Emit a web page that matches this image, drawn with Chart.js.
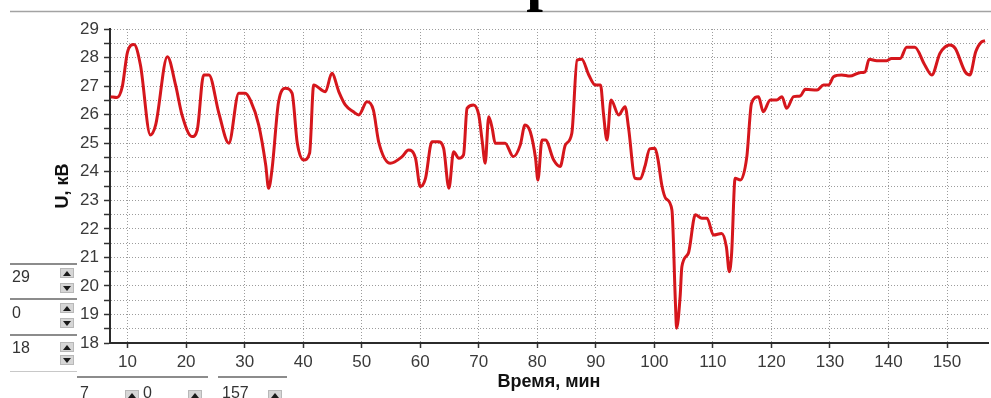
<!DOCTYPE html>
<html lang="ru">
<head>
<meta charset="UTF-8">
<title>U, кВ</title>
<script src="https://cdn.jsdelivr.net/npm/chart.js"></script>
<style>
  html, body { margin: 0; padding: 0; background: #fff; }
  #wrap { position: relative; width: 991px; height: 398px; overflow: hidden; }
  #chart { position: absolute; left: 0; top: 0; }
  .edge { position: absolute; height: 0; border-top: 2px solid #8c8c8c; }
  .val { position: absolute; font: 16px "Liberation Sans", Arial, sans-serif; line-height: 16px; color: #333; }
  .btn { position: absolute; width: 12px; height: 8px; background: #d6d6d6; border: 1px solid #b8b8b8; }
  .btn i { position: absolute; left: 2px; width: 0; height: 0; border-left: 4px solid transparent; border-right: 4px solid transparent; }
  .up i { top: 2px; border-bottom: 5px solid #1a1a1a; }
  .dn i { top: 2px; border-top: 5px solid #1a1a1a; }
</style>
</head>
<body>
<div id="wrap">
  <canvas id="chart" width="991" height="398"></canvas>

  <!-- y range spinners -->
  <div class="edge" style="left:10px; top:263px; width:67px;"></div>
  <div class="val" style="left:12px; top:269px;">29</div>
  <div class="btn up" style="left:60px; top:268px;"><i></i></div>
  <div class="btn dn" style="left:60px; top:283px;"><i></i></div>

  <div class="edge" style="left:10px; top:298px; width:67px;"></div>
  <div class="val" style="left:12px; top:305px;">0</div>
  <div class="btn up" style="left:60px; top:303px;"><i></i></div>
  <div class="btn dn" style="left:60px; top:318px;"><i></i></div>

  <div class="edge" style="left:10px; top:334px; width:67px;"></div>
  <div class="val" style="left:12px; top:340px;">18</div>
  <div class="btn up" style="left:60px; top:342px;"><i></i></div>
  <div class="btn dn" style="left:60px; top:355px;"><i></i></div>
  <div class="edge" style="left:10px; top:371px; width:67px; border-top:1px solid #c8c8c8;"></div>

  <!-- x range spinners -->
  <div class="edge" style="left:77px; top:376px; width:131px;"></div>
  <div class="val" style="left:80px; top:385px;">7</div>
  <div class="btn up" style="left:125px; top:390px;"><i></i></div>
  <div class="val" style="left:143px; top:385px;">0</div>
  <div class="btn up" style="left:188px; top:390px;"><i></i></div>
  <div class="edge" style="left:218px; top:376px; width:69px;"></div>
  <div class="val" style="left:222px; top:385px;">157</div>
  <div class="btn up" style="left:268px; top:390px;"><i></i></div>
</div>

<script>
// время, мин
const timeMin = [
  7.1, 8.2, 9.1, 10.0, 11.1, 12.2, 13.9, 14.8, 16.8, 18.2,
  19.3, 21.0, 21.9, 23.0, 23.9, 25.6, 27.3, 29.0, 30.1, 31.0,
  32.4, 33.6, 34.1, 34.7, 35.8, 37.0, 38.1, 39.0, 40.1, 41.1,
  41.8, 43.8, 44.9, 46.1, 47.2, 48.6, 49.5, 50.9, 52.0, 52.9,
  54.9, 56.9, 58.0, 59.2, 60.0, 60.9, 62.0, 63.1, 64.0, 64.9,
  65.7, 66.6, 67.4, 68.0, 69.1, 70.0, 70.6, 71.1, 71.7, 72.3,
  72.8, 74.5, 75.9, 77.1, 77.9, 78.8, 79.7, 80.1, 80.8, 81.4,
  82.8, 83.9, 84.8, 85.9, 86.8, 87.6, 88.8, 89.9, 90.8, 91.3,
  91.9, 92.6, 93.9, 95.0, 95.6, 96.7, 97.6, 98.4, 99.2, 100.1,
  100.6, 101.3, 102.0, 103.0, 103.6, 103.8, 104.4, 104.7, 105.8, 107.0,
  108.1, 109.0, 110.1, 111.5, 112.3, 112.8, 113.2, 113.8, 114.7, 115.8,
  116.6, 117.8, 118.6, 119.8, 120.9, 121.8, 122.6, 123.8, 124.9, 125.8,
  127.8, 128.9, 129.8, 130.6, 132.0, 133.4, 135.1, 136.0, 136.7, 138.0,
  139.7, 140.5, 142.0, 143.1, 144.5, 146.2, 147.4, 148.8, 150.5, 151.4,
  153.1, 153.9, 154.9, 155.9, 156.5
];

// U, кВ
const voltageKV = [
  26.63, 26.6, 26.98, 28.2, 28.46, 27.74, 25.29, 25.64, 28.03, 27.04,
  25.99, 25.23, 25.46, 27.39, 27.39, 26.05, 25.0, 26.75, 26.75, 26.5,
  25.64, 24.24, 23.42, 24.12, 26.45, 26.92, 26.75, 25.0, 24.41, 24.65,
  27.04, 26.8, 27.45, 26.8, 26.34, 26.1, 25.99, 26.45, 26.16, 25.05,
  24.3, 24.53, 24.76, 24.47, 23.48, 23.77, 25.05, 25.05, 24.82, 23.42,
  24.7, 24.47, 24.59, 26.22, 26.34, 25.99, 25.05, 24.3, 25.93, 25.52,
  25.0, 25.0, 24.53, 24.94, 25.64, 25.4, 24.47, 23.71, 25.11, 25.11,
  24.41, 24.18, 24.94, 25.35, 27.91, 27.94, 27.39, 27.04, 27.04, 26.05,
  25.11, 26.51, 25.99, 26.28, 25.52, 23.77, 23.75, 24.2, 24.8, 24.82,
  24.45, 23.5, 23.05, 22.66, 19.39, 18.52, 19.62, 20.67, 21.14, 22.49,
  22.37, 22.37, 21.78, 21.84, 21.37, 20.5, 21.14, 23.77, 23.71, 24.53,
  26.4, 26.63, 26.1, 26.51, 26.51, 26.63, 26.22, 26.63, 26.65, 26.89,
  26.86, 27.04, 27.04, 27.33, 27.39, 27.35, 27.47, 27.5, 27.94, 27.89,
  27.89, 27.97, 27.97, 28.36, 28.36, 27.74, 27.39, 28.15, 28.44, 28.32,
  27.5, 27.39, 28.2, 28.55, 28.59
];

const xTicks = [10, 20, 30, 40, 50, 60, 70, 80, 90, 100, 110, 120, 130, 140, 150];
const xRange = [7, 157];
const yRange = [18, 29];

const points = timeMin.map((t, i) => ({ x: t, y: voltageKV[i] }));

// верхняя рамка и обрезанный заголовок
const topDecor = {
  id: 'topDecor',
  beforeDraw(chart) {
    const c = chart.ctx;
    c.save();
    c.strokeStyle = '#a3a3a3';
    c.lineWidth = 1.5;
    c.beginPath();
    c.moveTo(10, 11.5);
    c.lineTo(991, 11.5);
    c.stroke();
    c.fillStyle = '#000';
    c.font = 'bold 60px "Liberation Serif"';
    c.textAlign = 'center';
    c.fillText('р', 543, -1);
    c.restore();
  }
};

const tickFont = { family: 'Liberation Sans', size: 17 };
const titleFont = { family: 'Liberation Sans', size: 18, weight: 'bold' };

new Chart(document.getElementById('chart'), {
  type: 'line',
  data: {
    datasets: [{
      data: points,
      borderColor: '#d5161c',
      borderWidth: 3,
      pointRadius: 0,
      cubicInterpolationMode: 'monotone',
      fill: false
    }]
  },
  options: {
    responsive: false,
    animation: false,
    layout: { padding: { top: 29, right: 3, left: 0, bottom: 0 } },
    plugins: { legend: { display: false }, tooltip: { enabled: false } },
    scales: {
      x: {
        type: 'linear',
        min: xRange[0],
        max: xRange[1],
        afterBuildTicks: s => { s.ticks = xTicks.map(v => ({ value: v })); },
        afterFit: s => { s.height = 55; },
        grid: { color: '#9c9c9c', lineWidth: 1, tickLength: 5, tickColor: '#333', tickWidth: 1.5 },
        border: { display: true, color: '#2b2b2b', width: 2, dash: [1, 2] },
        ticks: { font: tickFont, color: '#3a3a3a', padding: 4, maxRotation: 0, autoSkip: false },
        title: { display: true, text: 'Время, мин', font: titleFont, color: '#111', padding: { top: 0, bottom: 5 } }
      },
      y: {
        min: yRange[0],
        max: yRange[1],
        afterFit: s => { s.width = 110; },
        grid: {
          color: ctx => (ctx.tick && ctx.tick.value === yRange[0]) ? 'rgba(0,0,0,0)' : '#9c9c9c',
          lineWidth: 1, tickLength: 6, tickColor: '#333', tickWidth: 1.5
        },
        border: { display: true, color: '#2b2b2b', width: 2, dash: [1, 2] },
        ticks: {
          stepSize: 0.5,
          autoSkip: false,
          font: tickFont,
          color: '#3a3a3a',
          padding: 5,
          callback: v => Number.isInteger(v) ? v : ''
        },
        title: { display: true, text: 'U, кВ', font: titleFont, color: '#111', padding: { top: 52, bottom: 0 } }
      }
    }
  },
  plugins: [topDecor]
});
</script>
</body>
</html>
